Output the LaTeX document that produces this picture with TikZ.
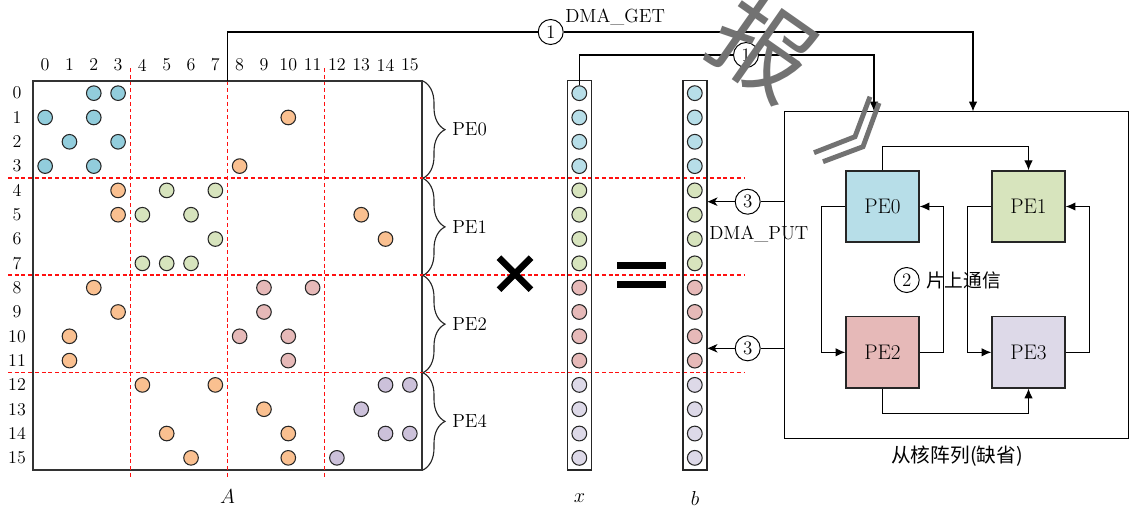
\documentclass[tikz,border=0pt]{standalone}
\usepackage{fontspec}
\newfontfamily\cjk{Noto Sans CJK SC}
\usetikzlibrary{arrows.meta,decorations.pathreplacing,calc}
\definecolor{mblue}{HTML}{92CDDC}
\definecolor{vblue}{HTML}{B7DEE8}
\definecolor{morange}{HTML}{FAC090}
\definecolor{mgreen}{HTML}{D7E4BD}
\definecolor{mpink}{HTML}{E6B9B8}
\definecolor{mpurple}{HTML}{CCC1DA}
\definecolor{vpurple}{HTML}{DDD9E8}
\definecolor{wmgray}{HTML}{727272}
\definecolor{dred}{HTML}{FF1010}
\tikzset{
  dot/.style={circle,draw=black!85,line width=0.75pt,minimum size=0.365cm,inner sep=0pt},
  vdot/.style={circle,draw=black!85,line width=0.75pt,minimum size=0.37cm,inner sep=0pt},
  lab/.style={font=\fontsize{12.8}{14}\selectfont,inner sep=0pt},
  txt/.style={font=\fontsize{13.5}{16}\selectfont,inner sep=0pt},
  num/.style={circle,draw,fill=white,line width=0.7pt,minimum size=0.625cm,inner sep=0pt,font=\fontsize{13.5}{14}\selectfont},
  pebox/.style={draw=black!85,line width=0.9pt,minimum width=1.825cm,minimum height=1.78cm,inner sep=0pt,font=\fontsize{15}{17}\selectfont},
  rdash/.style={dred,line width=0.8pt,dash pattern=on 2.8pt off 2pt},
  conn/.style={line width=0.75pt},
  pbrace/.style={decorate,decoration={brace,amplitude=0.55cm},line width=0.8pt,black!85},
  cjktxt/.style={font=\cjk\fontsize{13.3}{16}\selectfont,inner sep=0pt}
}
\begin{document}
\begin{tikzpicture}[x=0.025cm,y=-0.025cm]
\useasboundingbox (0,0) rectangle (1133,508);
\def\cw{24.3125}
% matrix A
\node[draw=black!80,line width=1pt,minimum width=9.725cm,minimum height=9.725cm,inner sep=0pt] (mat) at (227.5,275.5) {};
\foreach \i in {0,...,15} {
  \node[lab] (r\i) at (17,{81+(\i+0.5)*\cw}) {\i};
  \node[lab] (k\i) at ({33+(\i+0.5)*\cw},65) {\i};
}
\foreach \r/\c/\col in {0/2/mblue,0/3/mblue,1/0/mblue,1/2/mblue,1/10/morange,2/1/mblue,2/3/mblue,
  3/0/mblue,3/2/mblue,3/8/morange,4/3/morange,4/5/mgreen,4/7/mgreen,5/3/morange,5/4/mgreen,5/6/mgreen,5/13/morange,
  6/7/mgreen,6/14/morange,7/4/mgreen,7/5/mgreen,7/6/mgreen,8/2/morange,8/9/mpink,8/11/mpink,9/3/morange,9/9/mpink,
  10/1/morange,10/8/mpink,10/10/mpink,11/1/morange,11/10/mpink,12/4/morange,12/7/morange,12/14/mpurple,12/15/mpurple,
  13/9/morange,13/13/mpurple,14/5/morange,14/10/morange,14/14/mpurple,14/15/mpurple,15/6/morange,15/10/morange,15/12/mpurple}
  \node[dot,fill=\col] (m-\r-\c) at ({33+(\c+0.5)*\cw},{81+(\r+0.5)*\cw}) {};
% red dashed partition lines
\foreach \k in {4,8,12} \draw[rdash] ({33+\k*\cw},68) -- ({33+\k*\cw},479);
\foreach \yy in {178,275,372.5} \draw[rdash] (8,\yy) -- (745,\yy);
% braces and PE labels
\foreach \g/\name in {0/PE0,1/PE1,2/PE2,3/PE4} {
  \draw[pbrace] (423,{81+4*\g*\cw}) -- (423,{81+4*(\g+1)*\cw});
  \node[txt,anchor=west] (pl\g) at (452,{81+(4*\g+2)*\cw}) {\name};
}
\node[txt] (labA) at (227.5,497) {$A$};
% times and equals
\draw[line width=4.6pt] (499,257.7) -- (531,289.7);
\draw[line width=4.6pt] (499,289.7) -- (531,257.7);
\fill (616.7,261.7) rectangle (666,269);
\fill (616.7,281) rectangle (666,288.3);
% vectors
\node[draw=black!85,line width=0.9pt,minimum width=0.6cm,minimum height=9.73cm,inner sep=0pt] (xvec) at (579.6,275.4) {};
\node[draw=black!85,line width=0.9pt,minimum width=0.6cm,minimum height=9.73cm,inner sep=0pt] (bvec) at (695,275.4) {};
\foreach \g/\col in {0/vblue,1/mgreen,2/mpink,3/vpurple}
  \foreach \k in {0,...,3} {
    \pgfmathtruncatemacro\i{4*\g+\k}
    \node[vdot,fill=\col] (x\i) at (579.3,{81+(\i+0.5)*\cw}) {};
    \node[vdot,fill=\col] (b\i) at (694.8,{81+(\i+0.5)*\cw}) {};
  }
\node[txt] (labx) at (579.5,498) {$x$};
\node[txt] (labb) at (695,498) {$b$};
% slave core array
\node[draw,line width=0.75pt,minimum width=8.575cm,minimum height=8.15cm,inner sep=0pt] (arr) at (956.5,275) {};
\node[cjktxt,font=\cjk\fontsize{14}{16}\selectfont] (arrlab) at (957,456) {从核阵列(缺省)};
\node[pebox,fill=vblue] (PE0) at (882.5,206.5) {PE0};
\node[pebox,fill=mgreen] (PE1) at (1028.5,206.5) {PE1};
\node[pebox,fill=mpink] (PE2) at (882.5,352.3) {PE2};
\node[pebox,fill=vpurple] (PE3) at (1028.5,352.3) {PE3};
\draw[conn,-{Latex[length=7pt,width=6pt]}] (PE0.north) -- ++(0,-24) -| (PE1.north);
\draw[conn,-{Latex[length=7pt,width=6pt]}] (PE0.west) -- ++(-24.3,0) |- (PE2.west);
\draw[conn,-{Latex[length=7pt,width=6pt]}] (PE2.east) -- ++(24.3,0) |- (PE0.east);
\draw[conn,-{Latex[length=7pt,width=6pt]}] (PE1.west) -- ++(-24.3,0) |- (PE3.west);
\draw[conn,-{Latex[length=7pt,width=6pt]}] (PE3.east) -- ++(24,0) |- (PE1.east);
\draw[conn,-{Latex[length=7pt,width=6pt]}] (PE2.south) -- ++(0,24.7) -| (PE3.south);
\node[num] (c5) at (906.7,280) {2};
\node[cjktxt,anchor=west] (onchip) at (926,280) {片上通信};
% DMA_GET arrows
\coordinate (mtop) at ({33+8*\cw},81);
\coordinate (gx) at (973,32);
\node[num] (c1) at (550.7,32) {1};
\node[txt,anchor=west] (dget) at (565,17) {DMA\_GET};
\draw[conn] (mtop) |- (c1.west);
\draw[conn,-{Latex[length=7pt,width=6pt]}] (c1.east) -- (gx) -- (gx |- arr.north);
\coordinate (hx) at (874,55);
\node[num] (c2) at (746,55) {1};
\draw[conn] (x0.north) |- (c2.west);
\draw[conn,-{Latex[length=7pt,width=6pt]}] (c2.east) -- (hx) -- (hx |- arr.north);
% DMA_PUT arrows
\node[num] (c3) at (747.7,201.7) {3};
\node[num] (c4) at (747.7,348.3) {3};
\draw[conn] (arr.west |- c3) -- (c3.east);
\draw[conn,-{Stealth[length=7pt,width=6pt,inset=2pt]}] (c3.west) -- (bvec.east |- c3);
\draw[conn] (arr.west |- c4) -- (c4.east);
\draw[conn,-{Stealth[length=7pt,width=6pt,inset=2pt]}] (c4.west) -- (bvec.east |- c4);
\node[txt,anchor=west] (dput) at (709,234) {DMA\_PUT};
% grey stamp
\node[text=wmgray,rotate=-35,font=\cjk\fontsize{70}{70}\selectfont,inner sep=0pt] (wm) at (764,47) {报};
\draw[wmgray,line width=3.5pt] (814,152.7) -- (855,136.7) -- (870,96.7);
\draw[wmgray,line width=3.5pt] (823,161.7) -- (863,146.7) -- (879,103);
\end{tikzpicture}
\end{document}
